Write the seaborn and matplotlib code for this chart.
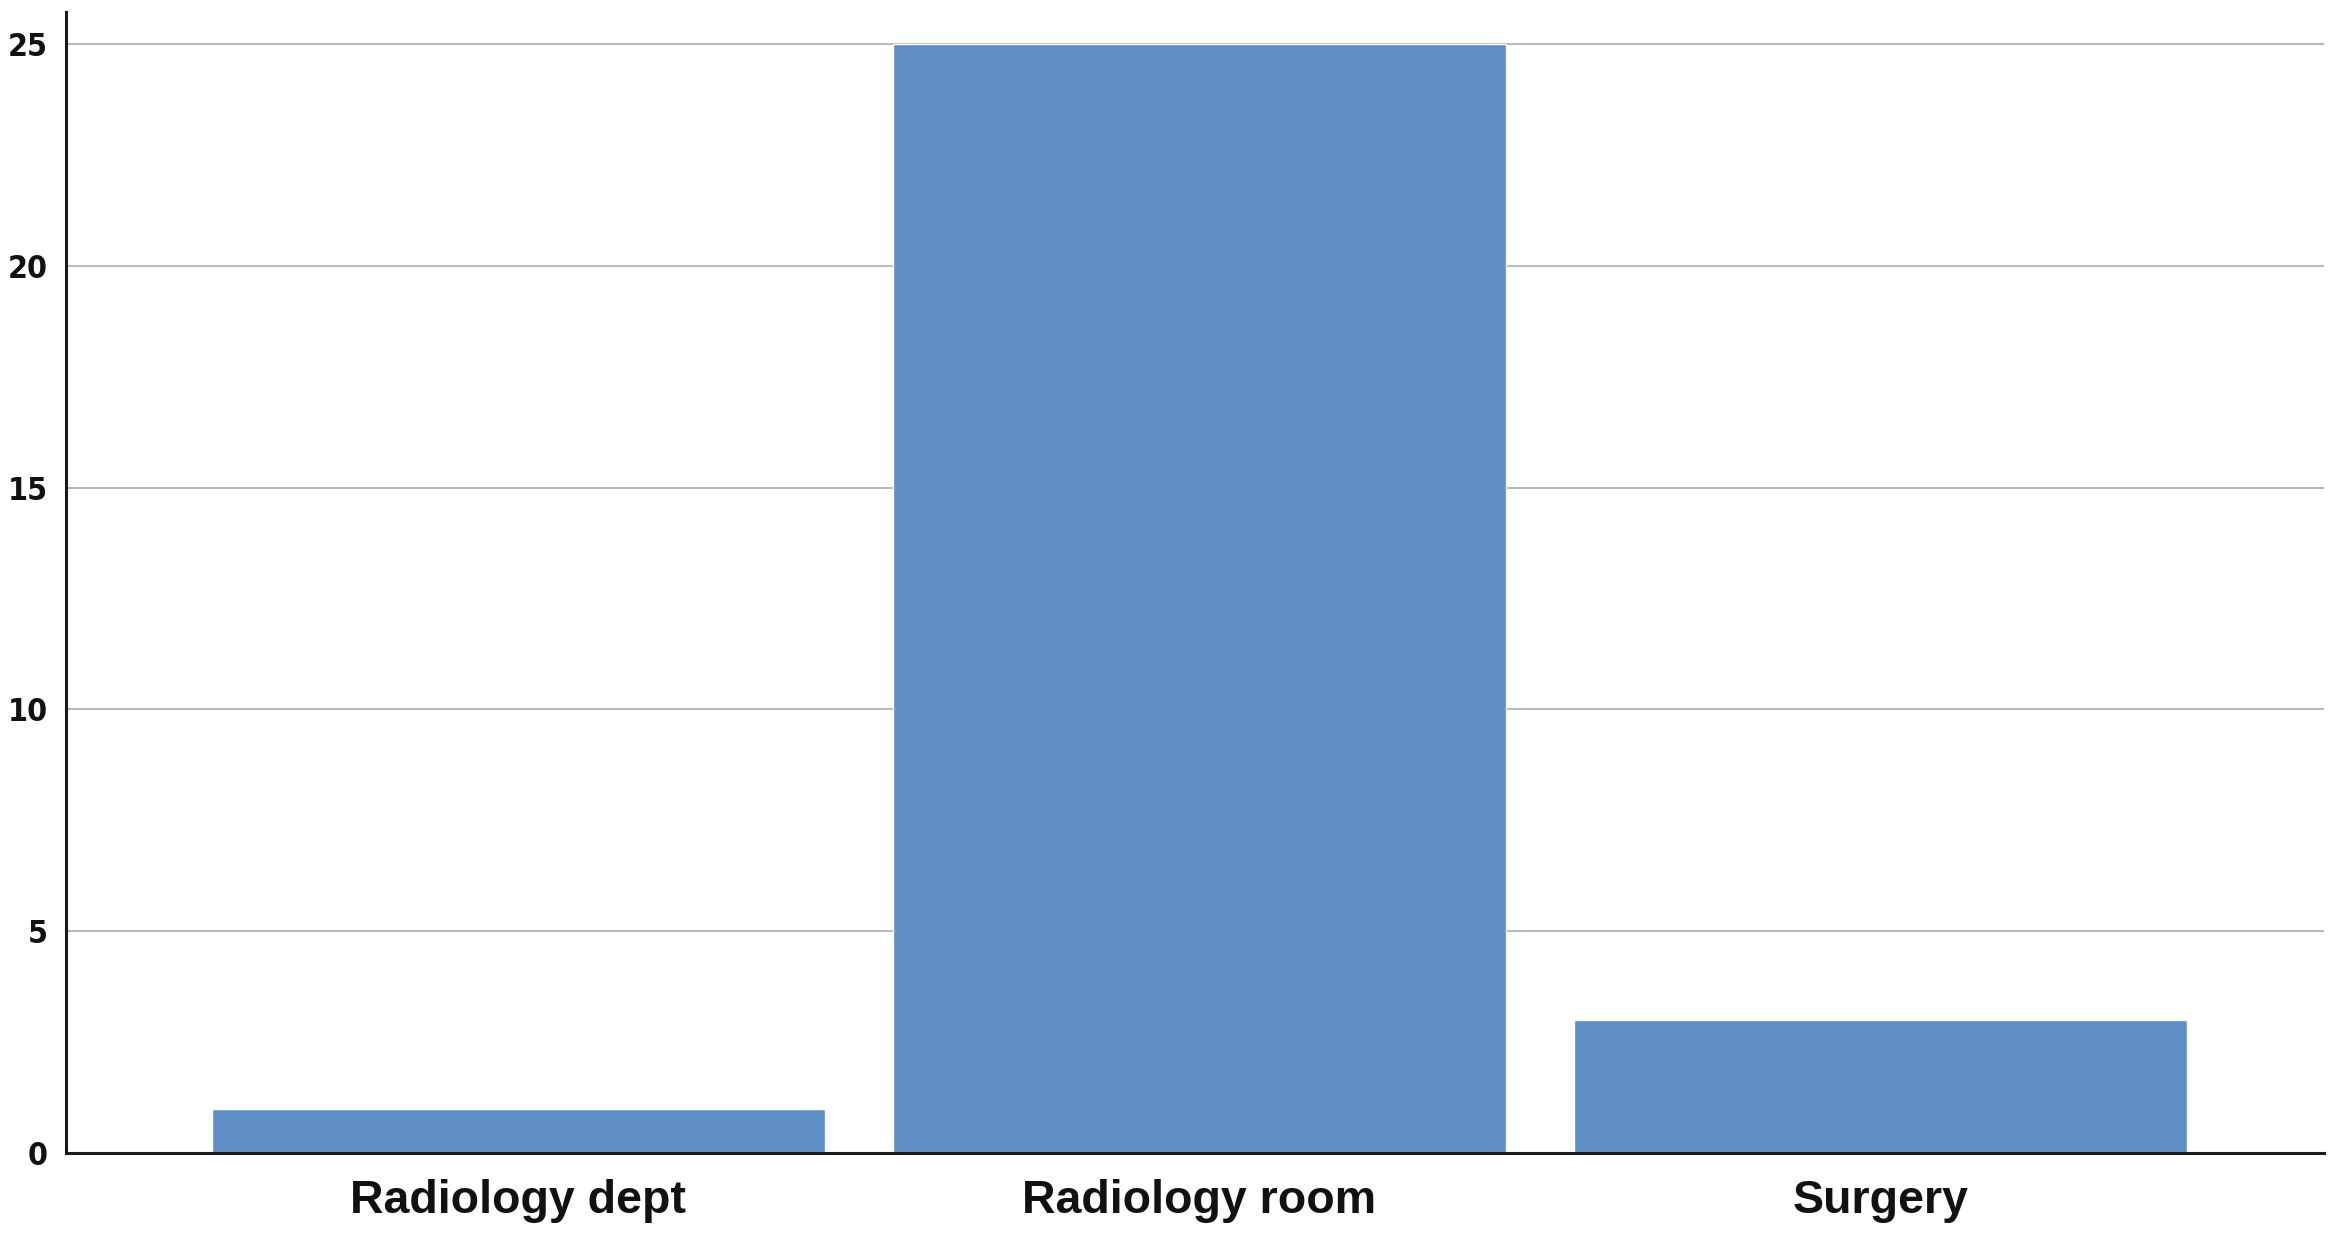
import matplotlib
matplotlib.use('Agg')
import matplotlib.pyplot as plt
import seaborn as sns
import pandas as pd

# ─── Data ───────────────────────────────────────────────────────────────────
categories = ['Radiology dept', 'Radiology room', 'Surgery']
counts     = [1, 25, 3]
y_ticks    = [0, 5, 10, 15, 20, 25]
# ────────────────────────────────────────────────────────────────────────────

BAR_COLOR  = '#5f8fc6'
GRID_COLOR = '#b9b9b9'

sns.set_theme(style='white')
plt.rcParams['font.family'] = ['Liberation Sans', 'DejaVu Sans']

df = pd.DataFrame({'location': categories, 'count': counts})

W, H = 2335, 1237
fig = plt.figure(figsize=(W / 100, H / 100), dpi=100)
ax = fig.add_axes([66 / W, (H - 1153) / H, (2324 - 66) / W, (1153 - 12) / H])

sns.barplot(data=df, x='location', y='count', color=BAR_COLOR,
            width=0.9, saturation=1, ax=ax, zorder=3)

ax.set_xlim(-0.664, 2.651)
ax.set_ylim(0, 25.72)
ax.set_yticks(y_ticks)
ax.set_xlabel('')
ax.set_ylabel('')

ax.grid(axis='y', color=GRID_COLOR, linewidth=1.5, zorder=0)
ax.grid(axis='x', visible=False)
ax.set_axisbelow(True)

for side in ['top', 'right']:
    ax.spines[side].set_visible(False)
for side in ['left', 'bottom']:
    ax.spines[side].set_color('#1a1a1a')
    ax.spines[side].set_linewidth(2.2)
    ax.spines[side].set_zorder(4)

ax.tick_params(axis='both', length=0)
ax.tick_params(axis='y', pad=13)
ax.tick_params(axis='x', pad=19)

for lbl in ax.get_yticklabels():
    lbl.set_family(['DejaVu Sans'])
    lbl.set_fontstretch('condensed')
    lbl.set_fontweight('bold')
    lbl.set_fontsize(23)
    lbl.set_color('#111111')

for lbl in ax.get_xticklabels():
    lbl.set_fontweight('bold')
    lbl.set_fontsize(33.5)
    lbl.set_color('#111111')

fig.savefig('out.png', dpi=100, facecolor='white')
